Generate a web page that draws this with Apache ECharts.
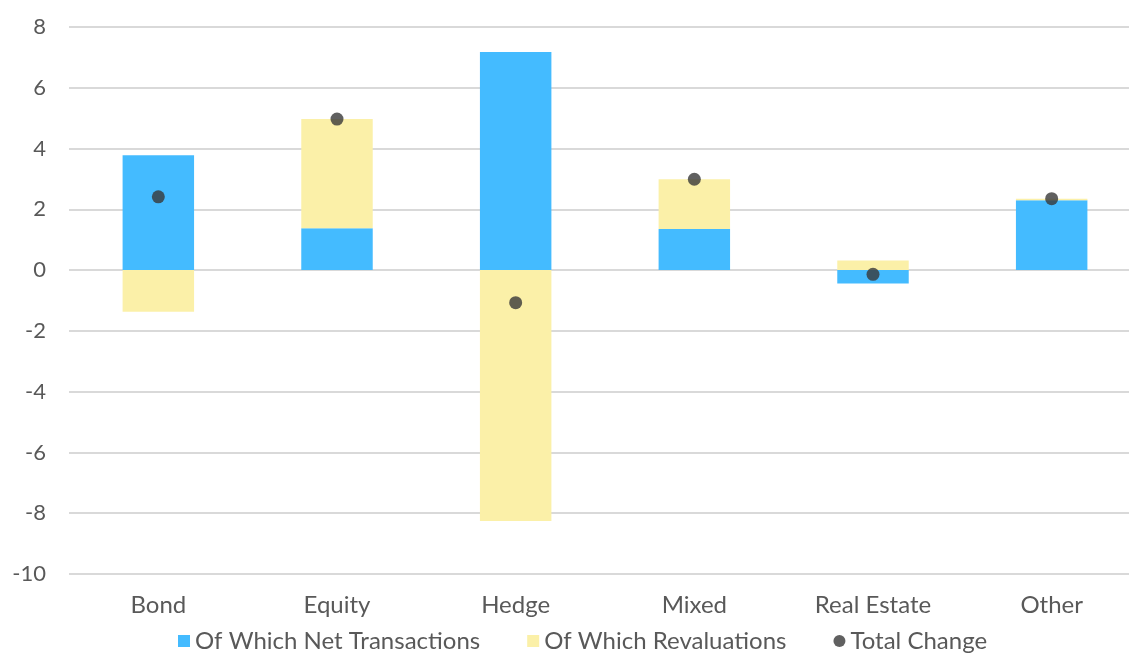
<!DOCTYPE html>
<html><head><meta charset="utf-8">
<script src="https://cdn.jsdelivr.net/npm/echarts@6/dist/echarts.min.js"></script>
<style>html,body{margin:0;padding:0;background:#fff}#c{width:1129px;height:653px}</style>
</head><body><div id="c"></div>
<script>
const categories = ['Bond','Equity','Hedge','Mixed','Real Estate','Other'];
const netTransactions = [3.78, 1.38, 7.18, 1.35, -0.44, 2.30];
const revaluations = [-1.37, 3.59, -8.26, 1.64, 0.32, 0.05];
const totalChange = [2.41, 4.97, -1.07, 2.99, -0.14, 2.35];
const yTicks = {min: -10, max: 8, interval: 2};

const chart = echarts.init(document.getElementById('c'));
const font = 'Lato, "Open Sans", sans-serif';
chart.setOption({
  animation: false,
  textStyle: {fontFamily: font},
  grid: {left: 69, width: 1072, top: 27, height: 547, containLabel: false, outerBoundsMode: 'none'},
  legend: {
    top: 627, left: 173, padding: [0, 5], itemGap: 47, itemWidth: 12, itemHeight: 12,
    textStyle: {fontSize: 24, color: '#595959', fontFamily: font, lineHeight: 28},
    data: [
      {name: 'Of Which Net Transactions', icon: 'rect'},
      {name: 'Of Which Revaluations', icon: 'rect'},
      {name: 'Total Change', icon: 'circle'}
    ]
  },
  xAxis: {
    type: 'category', data: categories,
    axisLine: {show: false}, axisTick: {show: false},
    axisLabel: {fontSize: 24, color: '#595959', margin: 19, fontFamily: font}
  },
  yAxis: {
    type: 'value', min: yTicks.min, max: yTicks.max, interval: yTicks.interval,
    axisLabel: {fontSize: 22, color: '#595959', margin: 23, fontFamily: font},
    splitLine: {lineStyle: {color: '#d9d9d9', width: 2}}
  },
  series: [
    {name: 'Of Which Net Transactions', type: 'bar', stack: 'a', data: netTransactions,
     barWidth: '40%', itemStyle: {color: '#44BBFF'}},
    {name: 'Of Which Revaluations', type: 'bar', stack: 'a', data: revaluations,
     barWidth: '40%', itemStyle: {color: '#FBF0A8'}},
    {name: 'Total Change', type: 'scatter', data: totalChange, symbolSize: 13,
     itemStyle: {color: '#383838'}, z: 5}
  ]
});
</script></body></html>
